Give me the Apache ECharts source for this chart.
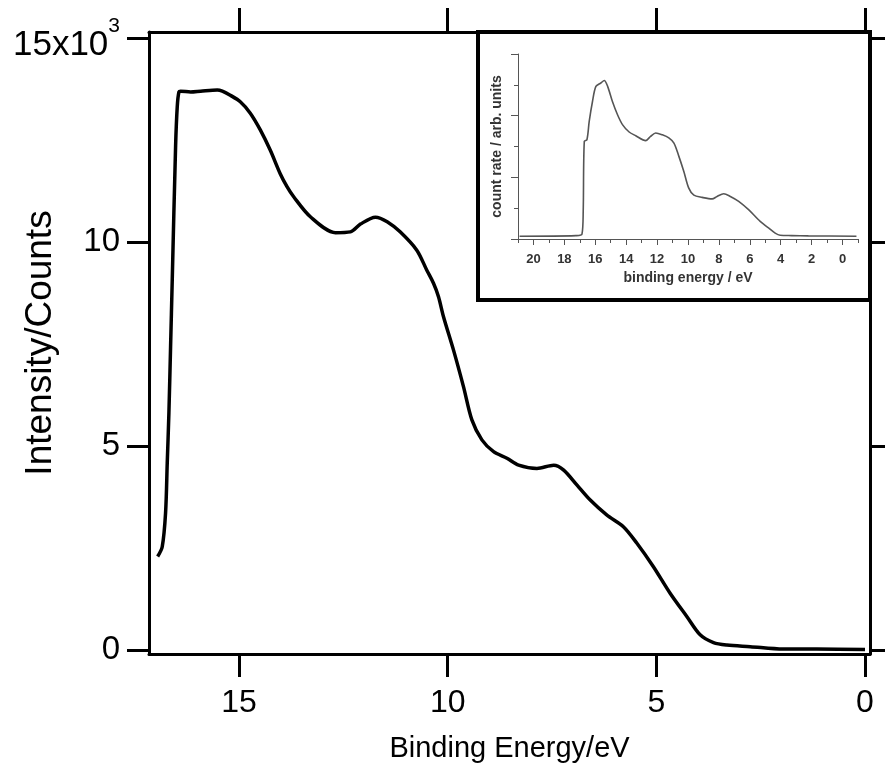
<!DOCTYPE html>
<html><head><meta charset="utf-8">
<script src="https://cdn.jsdelivr.net/npm/echarts@6/dist/echarts.min.js"></script>
<style>html,body{margin:0;padding:0;background:#fff}#c{width:885px;height:775px}</style>
</head><body><div id="c"></div>
<script>
// ---- main spectrum ----
const mainEnergy = [16.95,16.84,16.76,16.72,16.68,16.64,16.60,16.52,16.48,16.44,16.40,16.16,15.92,15.52,15.40,15.21,14.97,14.73,14.49,14.25,14.01,13.85,13.69,13.29,12.69,12.33,12.09,11.73,11.45,11.14,10.74,10.50,10.34,10.22,10.10,9.86,9.62,9.42,9.18,8.90,8.58,8.30,7.86,7.46,7.22,6.90,6.59,6.19,5.79,5.47,5.07,4.67,4.27,3.95,3.63,3.31,2.75,1.96,1.16,0.0];
const mainCounts = [2290,2530,3360,4580,5810,7430,9070,12340,13320,13680,13700,13680,13700,13730,13700,13600,13440,13160,12750,12250,11670,11360,11110,10620,10230,10250,10440,10610,10500,10250,9800,9310,8990,8660,8170,7350,6450,5640,5150,4860,4700,4530,4450,4530,4410,4040,3680,3310,3020,2620,2040,1390,820,370,180,120,80,20,20,10];
const mainTickValues = [0,5,10,15];
const mainYTickValues = [0,5000,10000,15000];
// ---- inset spectrum ----
const insetEnergy = [20.9,17.25,16.86,16.78,16.71,16.54,16.39,16.18,15.96,15.64,15.42,15.2,14.89,14.56,14.24,13.81,13.38,12.74,12.42,12.09,11.66,11.24,10.91,10.59,10.27,9.95,9.62,9.09,8.44,8.12,7.69,7.26,6.72,6.08,5.33,4.79,4.36,4.04,3.29,2.21,-0.9];
const insetRate = [0.09,0.11,0.16,0.9,3.17,3.22,3.82,4.46,4.95,5.06,5.14,4.95,4.46,4.03,3.71,3.47,3.35,3.19,3.33,3.44,3.38,3.28,3.11,2.68,2.19,1.65,1.42,1.35,1.30,1.38,1.47,1.38,1.22,0.95,0.57,0.36,0.19,0.12,0.11,0.10,0.09];
const insetXLabels = [0,2,4,6,8,10,12,14,16,18,20];
const insetXMinor = [-1,1,3,5,7,9,11,13,15,17,19,21];
const insetYMajor = [0,2,4,6];
const insetYMinor = [1,3,5];

const FF = 'Liberation Sans, Arial, sans-serif';
const mainPairs = mainEnergy.map((e,i)=>[e, mainCounts[i]]);
const insetPairs = insetEnergy.map((e,i)=>[e, insetRate[i]]);

const blk = {color:'#000', width:3};
const gry = {color:'#555', width:1};

const chart = echarts.init(document.getElementById('c'));
chart.setOption({
  animation:false,
  backgroundColor:'#fff',
  grid:[
    {left:149, right:15, top:32, bottom:121, outerBoundsMode:'none'},
    {left:518, right:27, top:54, bottom:536, outerBoundsMode:'none'}
  ],
  graphic:[{type:'rect', z:50, shape:{x:478, y:32, width:392, height:268},
    style:{fill:'#fff', stroke:'#000', lineWidth:4}}],
  xAxis:[
    {type:'value', gridIndex:0, min:-0.12, max:17.157, inverse:true, position:'bottom',
     axisLine:{show:true, onZero:false, lineStyle:blk},
     axisTick:{show:true, length:23, lineStyle:blk, customValues:mainTickValues},
     axisLabel:{customValues:mainTickValues, fontSize:32, color:'#000', margin:33, fontFamily:FF},
     splitLine:{show:false},
     name:'Binding Energy/eV', nameLocation:'middle', nameGap:80, nameMoveOverlap:false,
     nameTextStyle:{fontSize:29, color:'#000', fontFamily:FF}},
    {type:'value', gridIndex:0, min:-0.12, max:17.157, inverse:true, position:'top',
     axisLine:{show:true, onZero:false, lineStyle:blk},
     axisTick:{show:true, length:24, lineStyle:blk, customValues:mainTickValues},
     axisLabel:{show:false}, splitLine:{show:false}},
    {type:'value', gridIndex:1, min:-1, max:21, inverse:true, position:'bottom', z:60,
     axisLine:{show:true, onZero:false, lineStyle:gry},
     axisTick:{show:true, length:4, lineStyle:gry, customValues:insetXMinor},
     axisLabel:{show:false}, splitLine:{show:false}},
    {type:'value', gridIndex:1, min:-1, max:21, inverse:true, position:'bottom', z:60,
     axisLine:{show:false, onZero:false},
     axisTick:{show:true, length:6, lineStyle:gry, customValues:insetXLabels},
     axisLabel:{customValues:insetXLabels, fontSize:13, fontWeight:'bold', color:'#333', margin:14, fontFamily:FF},
     splitLine:{show:false},
     name:'binding energy / eV', nameLocation:'middle', nameGap:32, nameMoveOverlap:false,
     nameTextStyle:{fontSize:14, fontWeight:'bold', color:'#333', fontFamily:FF}}
  ],
  yAxis:[
    {type:'value', gridIndex:0, min:-100, max:15150, position:'left',
     axisLine:{show:true, onZero:false, lineStyle:blk},
     axisTick:{show:true, length:22, lineStyle:blk, customValues:mainYTickValues},
     axisLabel:{customValues:mainYTickValues, margin:29, color:'#000', fontFamily:FF, fontSize:33,
       formatter:v=> v===15000 ? '{a|15x10}{s|3}' : '{b|'+(v/1000)+'}',
       rich:{a:{fontSize:35, color:'#000', fontFamily:FF, lineHeight:32, padding:[14,0,0,0]},
             b:{fontSize:33, color:'#000', fontFamily:FF, lineHeight:36},
             s:{fontSize:21, color:'#000', fontFamily:FF, lineHeight:20, padding:[0,0,24,0]}}},
     splitLine:{show:false},
     name:'Intensity/Counts', nameLocation:'middle', nameGap:90, nameMoveOverlap:false,
     nameTextStyle:{fontSize:37, color:'#000', fontFamily:FF}},
    {type:'value', gridIndex:0, min:-100, max:15150, position:'right',
     axisLine:{show:true, onZero:false, lineStyle:blk},
     axisTick:{show:true, length:15, lineStyle:blk, customValues:mainYTickValues},
     axisLabel:{show:false}, splitLine:{show:false}},
    {type:'value', gridIndex:1, min:0, max:6, position:'left', z:60,
     axisLine:{show:true, onZero:false, lineStyle:gry},
     axisTick:{show:true, length:7, lineStyle:gry, customValues:insetYMajor},
     axisLabel:{show:false}, splitLine:{show:false},
     name:'count rate / arb. units', nameLocation:'middle', nameGap:14, nameMoveOverlap:false,
     nameTextStyle:{fontSize:14, fontWeight:'bold', color:'#333', fontFamily:FF}},
    {type:'value', gridIndex:1, min:0, max:6, position:'left', z:60,
     axisLine:{show:false, onZero:false},
     axisTick:{show:true, length:4, lineStyle:gry, customValues:insetYMinor},
     axisLabel:{show:false}, splitLine:{show:false}}
  ],
  series:[
    {type:'line', xAxisIndex:0, yAxisIndex:0, data:mainPairs, showSymbol:false,
     smooth:0.3, lineStyle:{color:'#000', width:3.5}, z:2},
    {type:'line', xAxisIndex:2, yAxisIndex:2, data:insetPairs, showSymbol:false,
     smooth:0.3, lineStyle:{color:'#555', width:1.6}, z:60}
  ]
});
</script></body></html>
